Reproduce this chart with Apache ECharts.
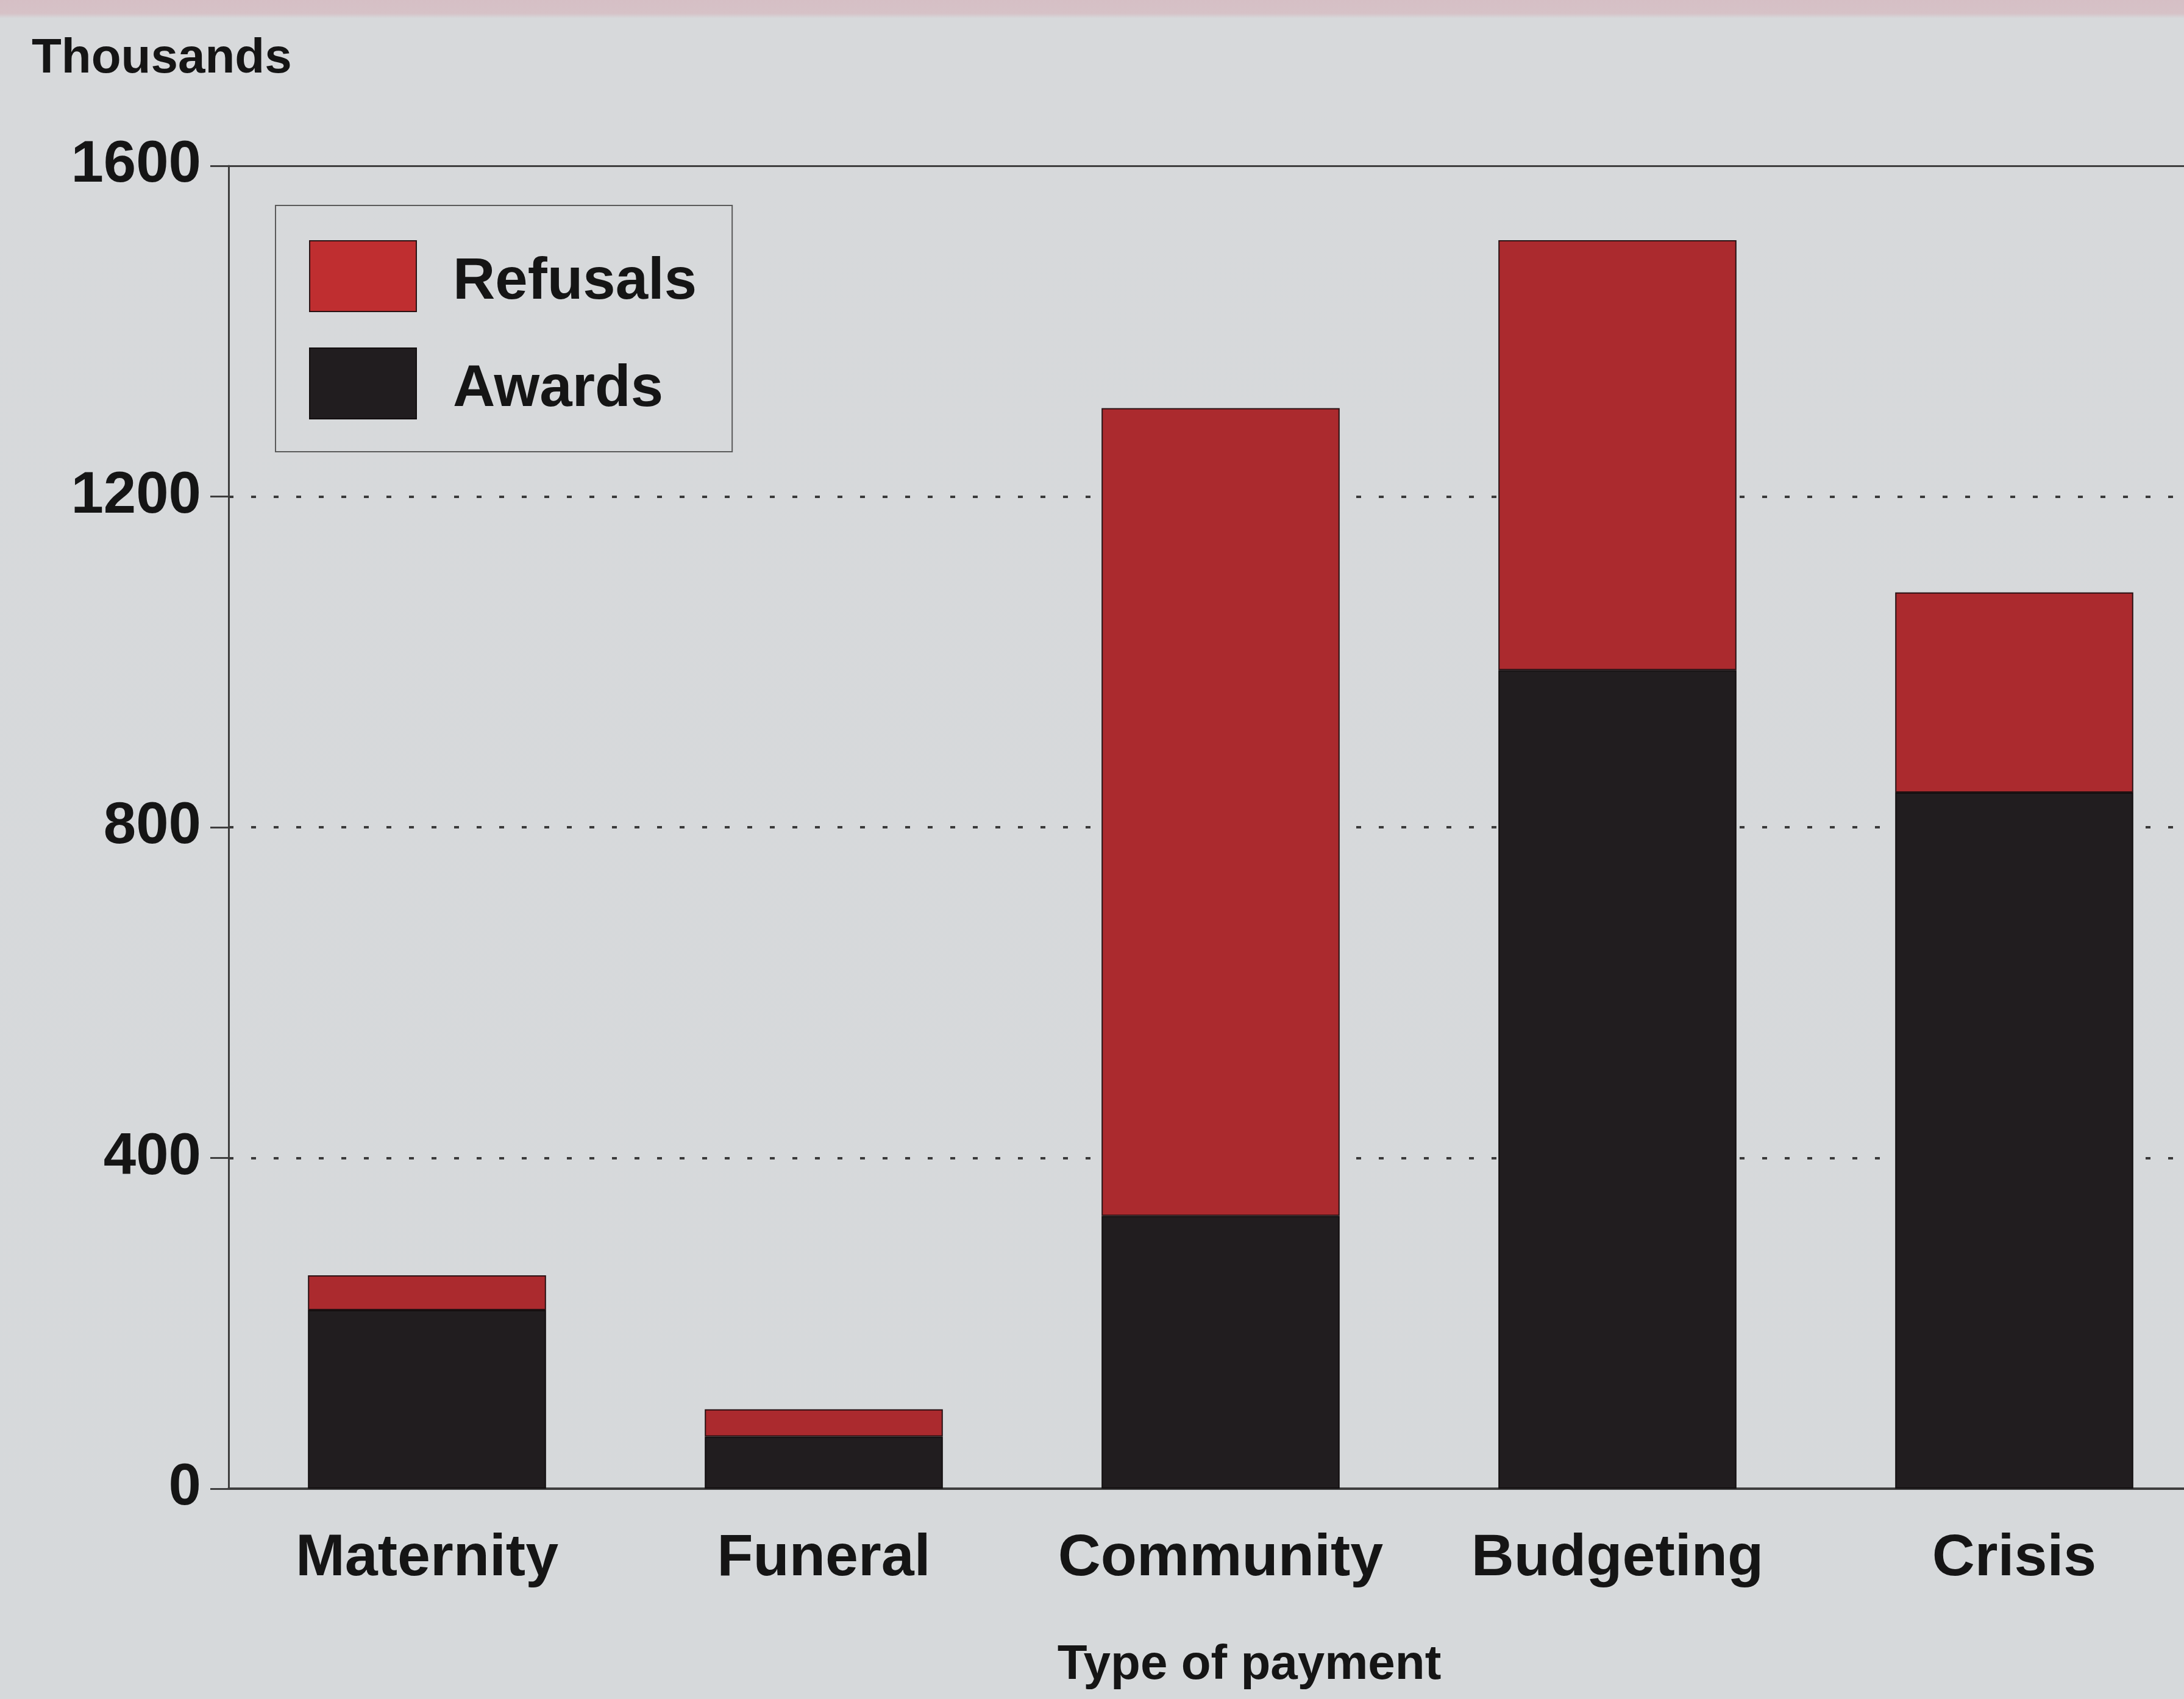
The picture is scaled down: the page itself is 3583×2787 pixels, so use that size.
<!DOCTYPE html>
<html>
<head>
<meta charset="utf-8">
<title>Awards and refusals by type of payment</title>
<script src="https://cdn.jsdelivr.net/npm/echarts@6/dist/echarts.min.js"></script>
<style>
  html, body { margin: 0; padding: 0; }
  body {
    width: 3583px; height: 2787px; overflow: hidden;
    background: linear-gradient(to bottom, #d6bfc5 0px, #d6c2c7 22px, #d7d9db 30px, #d6d9db 100%);
  }
  /* the plot runs on past the right edge of the page */
  #chart { width: 3630px; height: 2787px; }
</style>
</head>
<body>
<div id="chart"></div>
<script>
// Thousands of applications, by type of payment
const categories = ['Maternity', 'Funeral', 'Community', 'Budgeting', 'Crisis'];
const awards     = [216, 63, 330, 990, 842];
const refusals   = [42, 33, 977, 520, 242];
const yTicks     = [0, 400, 800, 1200, 1600];

const FONT = "'Liberation Sans', Arial, Helvetica, sans-serif";
const INK = '#151515';
const RED = '#ab2a2e';
const BLACK = '#211d1f';
const AXIS = '#3e3e3e';

const chart = echarts.init(document.getElementById('chart'), null, { renderer: 'canvas' });

chart.setOption({
  backgroundColor: 'transparent',
  animation: false,
  title: {
    text: 'Thousands',
    left: 52,
    top: 57,
    padding: 0,
    textStyle: { fontFamily: FONT, fontWeight: 'bold', fontSize: 80, color: INK }
  },
  legend: {
    orient: 'vertical',
    left: 452,
    top: 337,
    padding: [57, 58, 53, 55],
    itemWidth: 175,
    itemHeight: 116,
    itemGap: 58,
    borderColor: '#5a5a5a',
    borderWidth: 2,
    backgroundColor: 'transparent',
    icon: 'rect',
    data: [
      { name: 'Refusals', itemStyle: { color: '#bf2e30' } },
      { name: 'Awards' }
    ],
    formatter: (name) => '{t|' + name + '}',
    textStyle: {
      fontFamily: FONT, fontWeight: 'bold', fontSize: 96, color: INK,
      rich: {
        t: {
          fontFamily: FONT, fontWeight: 'bold', fontSize: 96, color: INK,
          padding: [22, 0, 0, 55]
        }
      }
    }
  },
  grid: { left: 375, right: 0, top: 272, bottom: 345, containLabel: false },
  xAxis: [
    {
      type: 'category',
      data: categories,
      position: 'bottom',
      axisLine: { show: true, lineStyle: { color: AXIS, width: 4 } },
      axisTick: { show: false },
      axisLabel: {
        interval: 0,
        fontFamily: FONT, fontWeight: 'bold', fontSize: 97, color: INK, margin: 67
      },
      name: 'Type of payment',
      nameLocation: 'middle',
      nameGap: 250,
      nameTextStyle: {
        fontFamily: FONT, fontWeight: 'bold', fontSize: 80, color: INK,
        padding: [0, 0, 0, 94]
      }
    },
    {
      // solid frame line along the top of the plot
      type: 'category',
      data: categories,
      position: 'top',
      axisLine: { show: true, lineStyle: { color: AXIS, width: 3 } },
      axisTick: { show: false },
      axisLabel: { show: false }
    }
  ],
  yAxis: {
    type: 'value',
    min: yTicks[0],
    max: yTicks[yTicks.length - 1],
    interval: yTicks[1] - yTicks[0],
    axisLine: { show: true, lineStyle: { color: AXIS, width: 3 } },
    axisTick: { show: true, inside: false, length: 30, lineStyle: { color: AXIS, width: 3 } },
    axisLabel: {
      fontFamily: FONT, fontWeight: 'bold', fontSize: 96, color: INK, margin: 45,
      padding: [14, 0, 0, 0],
      formatter: (v) => String(v)
    },
    splitLine: {
      show: true,
      showMinLine: false,
      showMaxLine: false,
      lineStyle: { color: '#3a3a3a', width: 4, type: [8, 29] }
    }
  },
  series: [
    {
      name: 'Awards',
      type: 'bar',
      stack: 'total',
      data: awards,
      barCategoryGap: '40%',
      itemStyle: { color: BLACK, borderColor: '#120e0f', borderWidth: 2 }
    },
    {
      name: 'Refusals',
      type: 'bar',
      stack: 'total',
      data: refusals,
      barCategoryGap: '40%',
      itemStyle: { color: RED, borderColor: '#2a1214', borderWidth: 2 }
    }
  ]
});
</script>
</body>
</html>
